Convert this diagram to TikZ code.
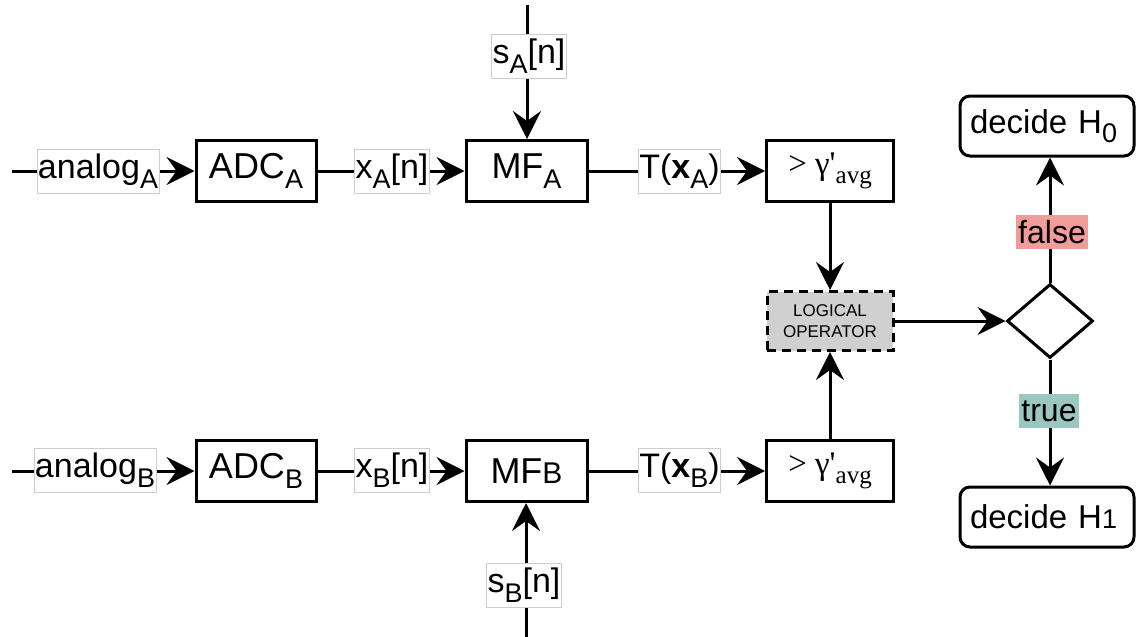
\documentclass[tikz,border=0pt]{standalone}
\usepackage{fontspec}
\setmainfont{Liberation Sans}
\newfontfamily\serifgreek{Liberation Serif}
\usetikzlibrary{arrows.meta,shapes.geometric}
\definecolor{falsered}{RGB}{241,156,153}
\definecolor{trueteal}{RGB}{154,199,191}
\definecolor{logicgray}{RGB}{208,208,208}
\definecolor{labelborder}{RGB}{205,205,205}
\tikzset{
  wire/.style={line width=3pt},
  arr/.style={wire,-{Stealth[length=28pt,width=28pt,inset=10pt]}},
  block/.style={draw,line width=3pt,fill=white,minimum width=120pt,minimum height=61pt,inner sep=0pt,
    font=\fontsize{36}{40}\selectfont},
  thbox/.style={block,minimum width=127pt,font=\serifgreek\fontsize{33}{38}\selectfont},
  lab/.style={draw=labelborder,line width=0.8pt,fill=white,inner sep=1pt,minimum height=44pt,
    font=\fontsize{34}{38}\selectfont},
  decide/.style={draw,line width=3pt,rounded corners=10pt,fill=white,minimum width=174pt,minimum height=60pt,
    inner sep=0pt,text width=154pt,align=left,font=\fontsize{33}{38}\selectfont},
  logic/.style={draw,dashed,dash pattern=on 9pt off 6pt,line width=3pt,fill=logicgray,minimum width=126pt,
    minimum height=59pt,align=center,inner sep=0pt,font=\fontsize{17}{21}\selectfont},
  choice/.style={draw,diamond,line width=3pt,fill=white,minimum width=86pt,minimum height=74pt,inner sep=0pt,aspect=1.16},
  flag/.style={inner sep=2pt,minimum height=34pt,font=\fontsize{32}{36}\selectfont},
}
\newcommand{\sbs}[1]{\raisebox{-0.28em}{\fontsize{27}{27}\selectfont #1}}
\begin{document}
\begin{tikzpicture}[x=1pt,y=-1pt]
\useasboundingbox (0,0) rectangle (1138,637);

% channel A
\node[block] (adcA) at (256,171) {ADC\sbs{A}};
\node[block,minimum width=121pt] (mfA) at (526.5,171) {MF\sbs{A}};
\node[thbox] (thA) at (830,171) {> γ'\raisebox{-0.25em}{\fontsize{25}{25}\selectfont avg}};
\coordinate (inA) at (12,171);
\coordinate (sAtop) at (527,5);

% channel B
\node[block] (adcB) at (256,471) {ADC\sbs{B}};
\node[block,minimum width=121pt] (mfB) at (526.5,471) {MF{\fontsize{30}{30}\selectfont B}};
\node[thbox] (thB) at (830,471) {> γ'\raisebox{-0.25em}{\fontsize{25}{25}\selectfont avg}};
\coordinate (inB) at (12,471);
\coordinate (sBbot) at (526,637);

% fusion and decision
\node[logic] (lo) at (830,321) {LOGICAL\\OPERATOR};
\node[choice] (dec) at (1050,321) {};
\node[decide] (h0) at (1047,126) {decide H\sbs{0}};
\node[decide] (h1) at (1047,517) {decide H{\fontsize{27}{30}\selectfont 1}};

% connectors
\draw[arr] (inA) -- (adcA);
\draw[arr] (adcA) -- (mfA);
\draw[arr] (sAtop) -- (mfA.north -| sAtop);
\draw[arr] (mfA) -- (thA);
\draw[arr] (thA) -- (lo);

\draw[arr] (inB) -- (adcB);
\draw[arr] (adcB) -- (mfB);
\draw[arr] (sBbot) -- (mfB.south -| sBbot);
\draw[arr] (mfB) -- (thB);
\draw[arr] (thB) -- (lo);

\draw[arr] (lo) -- (dec.west);
\draw[arr] (dec.north) -- (dec.north |- h0.south);
\draw[arr] (dec.south) -- (dec.south |- h1.north);

% edge labels
\node[lab,minimum width=117pt] (lanA) at (98,171) {analog\sbs{A}};
\node[lab,minimum width=70pt] (lxA) at (392,171) {x\sbs{A}[n]};
\node[lab,minimum width=70pt] (lsA) at (529,56) {s\sbs{A}[n]};
\node[lab,minimum width=81pt] (ltA) at (679.5,171) {T(\textbf{x}\sbs{A})};

\node[lab,minimum width=116pt] (lanB) at (95,470) {analog\sbs{B}};
\node[lab,minimum width=70pt] (lxB) at (392,470) {x\sbs{B}[n]};
\node[lab,minimum width=70pt] (lsB) at (524,585) {s\sbs{B}[n]};
\node[lab,minimum width=81pt] (ltB) at (679.5,470) {T(\textbf{x}\sbs{B})};

\node[flag,fill=falsered,minimum width=63pt] (lfalse) at (1052,232) {false};
\node[flag,fill=trueteal,minimum width=52pt] (ltrue) at (1049,411) {true};
\end{tikzpicture}
\end{document}
